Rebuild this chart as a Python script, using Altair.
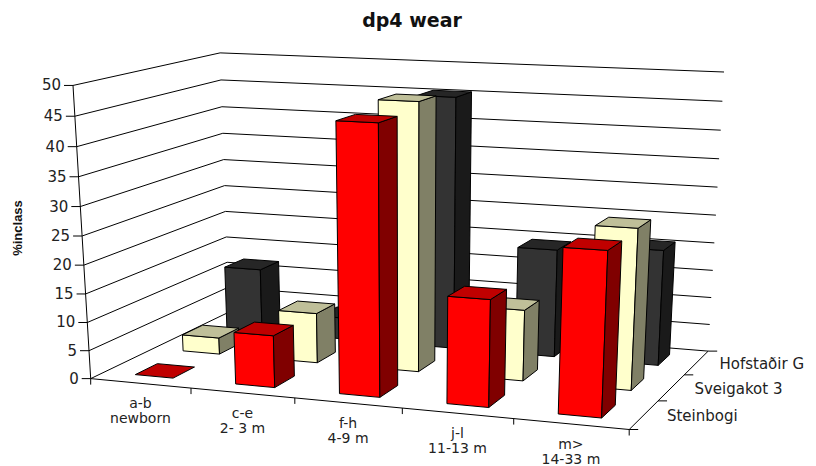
import numpy as np
import altair as alt

title = "dp4 wear"
y_title = "%inclass"
categories = [["a-b", "newborn"], ["c-e", "2- 3 m"], ["f-h", "4-9 m"], ["j-l", "11-13 m"], ["m>", "14-33 m"]]
series = ["Steinbogi", "Sveigakot 3", "Hofstaðir G"]
steinbogi = [0, 9.1, 45.6, 18.2, 27.5]
sveigakot = [3, 9, 46.8, 12.5, 27.8]
hofstadir = [12, 4, 45.4, 19.5, 20.7]
value_ticks = [0, 5, 10, 15, 20, 25, 30, 35, 40, 45, 50]
palette = [("#FF0000", "#C00000", "#800000"),
           ("#FFFFCC", "#BFBF99", "#808066"),
           ("#333333", "#262626", "#1A1A1A")]

# calibration of the 3D frame: (category, value, depth) -> picture position
frame_3d = [(0,0,0),(5,0,0),(5,0,3),(0,0,3),(0,50,0),(0,50,3),(5,50,3),
            (0,25,0),(0,25,3),(5,25,3)]
frame_2d = [(90.7,379.5),(629,429),(708.3,351.7),(229,311),(73.3,85),(220,53),(724,72),
            (82,236),(224.3,186.3),(716,215)]
A = []
for (X,Y,Z),(u,v) in zip(frame_3d, frame_2d):
    A.append([X,Y,Z,1,0,0,0,0,-u*X,-u*Y,-u*Z,-u])
    A.append([0,0,0,0,X,Y,Z,1,-v*X,-v*Y,-v*Z,-v])
P = np.linalg.svd(np.array(A,float))[2][-1].reshape(3,4)

def proj(x, y, z):
    h = P @ np.array([x, y, z, 1.0])
    return [float(h[0]/h[2]) - 8, float(h[1]/h[2]) - 8]

def poly(pts, fill):
    c = [proj(*p) for p in pts]
    return {"type":"Feature","properties":{"fill":fill,"stroke":"#000000"},
            "geometry":{"type":"Polygon","coordinates":[c+[c[0]]]}}

def seg(a, b):
    return {"type":"Feature","properties":{"fill":"transparent","stroke":"#000000"},
            "geometry":{"type":"LineString","coordinates":[list(a), list(b)]}}

features = []
# walls
for v in value_ticks:
    features.append(seg(proj(0,v,0), proj(0,v,3)))
    features.append(seg(proj(0,v,3), proj(5,v,3)))
    p = proj(0,v,0)
    features.append(seg([p[0]-9,p[1]], p))
features.append(seg(proj(0,0,0), proj(0,50,0)))
# floor edges and ticks
features.append(seg(proj(0,0,0), proj(5,0,0)))
features.append(seg(proj(5,0,0), proj(5,0,3)))
for i in range(6):
    p = proj(i,0,0)
    features.append(seg(p, [p[0], p[1]+6]))
for k in range(4):
    p = proj(5,0,k)
    features.append(seg(p, [p[0]+9, p[1]]))

W, D = 0.38, 0.45
rows = [steinbogi, sveigakot, hofstadir]
for s in [2,1,0]:
    front, top, side = palette[s]
    for i, val in enumerate(rows[s]):
        x0, x1 = i+(1-W)/2, i+(1+W)/2
        z0, z1 = s+(1-D)/2, s+(1+D)/2
        if val > 0:
            features.append(poly([(x0,0,z0),(x1,0,z0),(x1,val,z0),(x0,val,z0)], front))
            features.append(poly([(x1,0,z0),(x1,0,z1),(x1,val,z1),(x1,val,z0)], side))
        features.append(poly([(x0,val,z0),(x1,val,z0),(x1,val,z1),(x0,val,z1)], top))

shapes = alt.Chart(alt.Data(values=features)).mark_geoshape(strokeWidth=1).encode(
    fill=alt.Fill("properties.fill:N", scale=None),
    stroke=alt.Stroke("properties.stroke:N", scale=None),
).project(type="identity", scale=1, translate=[0, 0])

FONT = "DejaVu Sans"
labels = []
for v in value_ticks:
    p = proj(0,v,0)
    labels.append(dict(px=p[0]-12, py=p[1], t=str(v)))
vt = alt.Chart(alt.Data(values=labels)).mark_text(font=FONT, fontSize=15, align="right", baseline="middle", color="#222222").encode(
    x=alt.X("px:Q", scale=None), y=alt.Y("py:Q", scale=None), text="t:N")

cat_rows = []
for i, (a, b) in enumerate(categories):
    p = proj(i+0.5,0,0)
    cat_rows.append(dict(px=p[0], py=p[1]+21, t=a))
    cat_rows.append(dict(px=p[0], py=p[1]+36, t=b))
ct = alt.Chart(alt.Data(values=cat_rows)).mark_text(font=FONT, fontSize=14, align="center", baseline="middle", color="#222222").encode(
    x=alt.X("px:Q", scale=None), y=alt.Y("py:Q", scale=None), text="t:N")

ser_rows = []
for k, name in enumerate(series):
    p = proj(5,0,k+0.5)
    ser_rows.append(dict(px=p[0]+23, py=p[1]+1, t=name))
st = alt.Chart(alt.Data(values=ser_rows)).mark_text(font=FONT, fontSize=15, align="left", baseline="middle", color="#222222").encode(
    x=alt.X("px:Q", scale=None), y=alt.Y("py:Q", scale=None), text="t:N")

tt = alt.Chart(alt.Data(values=[dict(px=404, py=13, t=title)])).mark_text(font=FONT, fontSize=19, fontWeight="bold", align="center", baseline="middle", color="#111111").encode(
    x=alt.X("px:Q", scale=None), y=alt.Y("py:Q", scale=None), text="t:N")
yt = alt.Chart(alt.Data(values=[dict(px=10, py=220, t=y_title)])).mark_text(font="Liberation Sans", fontSize=13, fontWeight="bold", angle=270, align="center", baseline="middle", color="#111111").encode(
    x=alt.X("px:Q", scale=None), y=alt.Y("py:Q", scale=None), text="t:N")

chart = alt.layer(shapes, vt, ct, st, tt, yt).properties(
    width=800, height=458, padding=0, autosize=alt.AutoSizeParams(type="none"), background="#ffffff"
).configure_view(stroke=None)

chart.save("out.html", embed_options={"renderer": "svg", "actions": False})
